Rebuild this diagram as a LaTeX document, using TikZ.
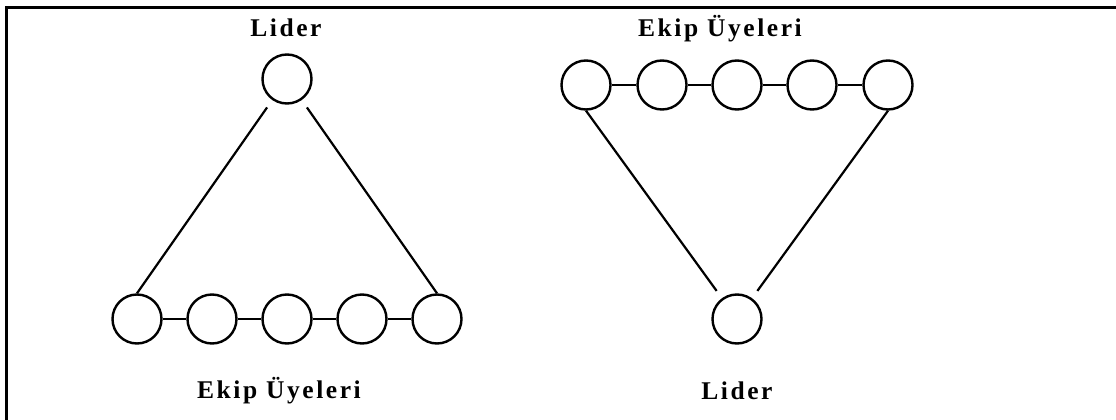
\documentclass[tikz,border=0pt]{standalone}
\usepackage{fontspec}
\setmainfont{Liberation Serif}
\usepackage{tikz}
\usetikzlibrary{positioning}

\begin{document}
\begin{tikzpicture}[x=1pt,y=-1pt,
  member/.style={circle,draw,line width=2.4pt,minimum size=49pt,inner sep=0pt},
  link/.style={line width=2.2pt},
  caption/.style={anchor=base,inner sep=0pt,
    font=\fontsize{25.5}{30}\selectfont\bfseries\addfontfeatures{LetterSpace=10}}]
\useasboundingbox (0,0) rectangle (1116,420);
% frame, only the top and left edges
\draw[line width=3pt] (6,420) -- (6,8) -- (1116,8);

% leader on top, team members below
\node[member] (L1) at (287,79) {};
\foreach \x [count=\i] in {137,212,287,362,437}
  \node[member] (m\i) at (\x,319) {};
\foreach \i [evaluate=\i as \j using int(\i+1)] in {1,...,4}
  \draw[link] (m\i) -- (m\j);
\draw[link,shorten <=9pt] (L1) -- (m1.north);
\draw[link,shorten <=9pt] (L1) -- (m5.north);
\node[caption] (lidA) at (286,37) {Lider};
\node[caption] (ekipA) at (279,398) {Ekip Üyeleri};

% team members on top, leader below
\foreach \x [count=\i] in {586,662,737,812,888}
  \node[member] (t\i) at (\x,85) {};
\foreach \i [evaluate=\i as \j using int(\i+1)] in {1,...,4}
  \draw[link] (t\i) -- (t\j);
\node[member] (L2) at (737,319) {};
\draw[link,shorten >=9pt] (t1.south) -- (L2);
\draw[link,shorten >=9pt] (t5.south) -- (L2);
\node[caption] (ekipB) at (720,37) {Ekip Üyeleri};
\node[caption] (lidB) at (737,399) {Lider};
\end{tikzpicture}
\end{document}
